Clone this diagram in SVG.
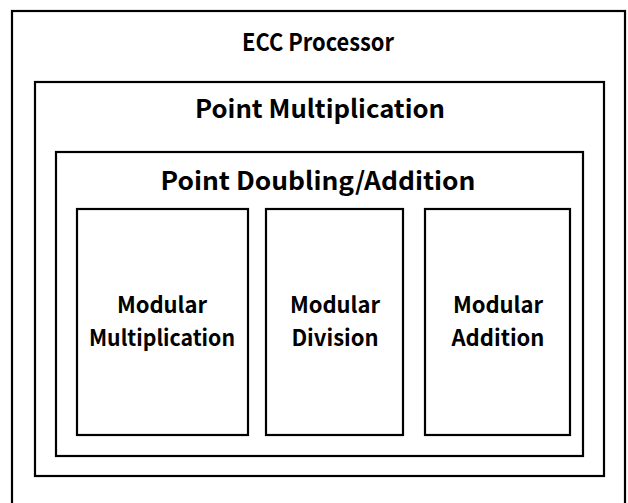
<svg xmlns="http://www.w3.org/2000/svg" width="628" height="503" viewBox="0 0 628 503">
<style>
rect{fill:#fff;stroke:#000;stroke-width:2.2}
text{font-family:"Noto Sans CJK KR","Noto Sans",sans-serif;font-weight:bold;fill:#000;text-anchor:middle}
.t{font-size:25px}
.m{font-size:22px}
</style>
<rect x="0" y="0" width="628" height="503" style="stroke:none"/>
<g id="ecc">
<rect x="12" y="11" width="613" height="500"/>
<text class="t" x="318" y="51" style="font-size:24px" textLength="152" lengthAdjust="spacingAndGlyphs">ECC Processor</text>
</g>
<g id="pm">
<rect x="35" y="82" width="569" height="394"/>
<text class="t" x="320" y="118" textLength="250" lengthAdjust="spacingAndGlyphs">Point Multiplication</text>
</g>
<g id="pda">
<rect x="56" y="152" width="527" height="304"/>
<text class="t" x="318" y="190" textLength="315" lengthAdjust="spacingAndGlyphs">Point Doubling/Addition</text>
</g>
<g id="mm">
<rect x="77" y="209" width="171" height="226"/>
<text class="m" x="162" y="313">Modular</text>
<text class="m" x="162" y="346" textLength="146" lengthAdjust="spacingAndGlyphs">Multiplication</text>
</g>
<g id="md">
<rect x="266" y="209" width="137" height="226"/>
<text class="m" x="335" y="313">Modular</text>
<text class="m" x="335" y="346">Division</text>
</g>
<g id="ma">
<rect x="425" y="209" width="145" height="226"/>
<text class="m" x="498" y="313">Modular</text>
<text class="m" x="498" y="346">Addition</text>
</g>
<g id="connectors"></g>
</svg>
